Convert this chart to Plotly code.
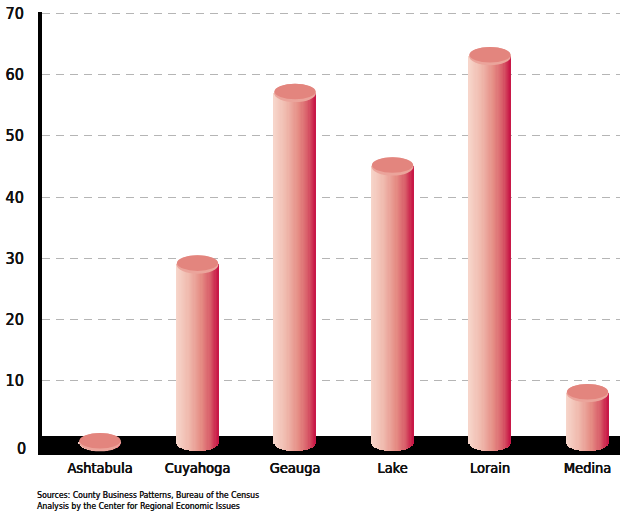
import plotly.graph_objects as go
import numpy as np

# Data
counties = ["Ashtabula", "Cuyahoga", "Geauga", "Lake", "Lorain", "Medina"]
values = [0, 29, 57, 45, 63, 8]
y_ticks = [10, 20, 30, 40, 50, 60, 70]

# Cylinder geometry (data units)
BAR_W = 0.43          # cylinder width in category units
RY = 1.5              # half-height of the elliptical caps in y units
N_STRIPS = 36         # vertical slices used to shade each cylinder

# Horizontal shading across the cylinder body
stops = [
    (0.00, (247, 214, 203)),
    (0.30, (240, 186, 174)),
    (0.60, (229, 140, 132)),
    (0.82, (216, 92, 104)),
    (1.00, (199, 18, 68)),
]


def shade(t):
    for (t0, c0), (t1, c1) in zip(stops[:-1], stops[1:]):
        if t <= t1:
            f = (t - t0) / (t1 - t0) if t1 > t0 else 0
            return "rgb(%d,%d,%d)" % tuple(round(a + (b - a) * f) for a, b in zip(c0, c1))
    return "rgb(%d,%d,%d)" % stops[-1][1]


fig = go.Figure()

strip_w = BAR_W / N_STRIPS
xs_cat = np.arange(len(counties))
for j in range(N_STRIPS):
    t = (j + 0.5) / N_STRIPS
    u = 2 * t - 1
    xs = xs_cat - BAR_W / 2 + (j + 0.5) * strip_w
    base = -RY * np.sqrt(max(0.0, 1 - u * u))
    fig.add_trace(go.Bar(
        x=xs,
        y=[v - base for v in values],
        base=[base] * len(values),
        width=strip_w * 1.15,
        marker=dict(color=shade(t), line=dict(width=0)),
        showlegend=False,
        hoverinfo="skip",
    ))

shapes = []
# Black floor band behind the cylinders
shapes.append(dict(type="rect", xref="paper", yref="y", x0=0, x1=1, y0=-2.1, y1=1.0,
                   fillcolor="black", line=dict(width=0), layer="between"))
# Elliptical top faces
for i, v in enumerate(values):
    shapes.append(dict(type="circle", xref="x", yref="y",
                       x0=i - BAR_W / 2, x1=i + BAR_W / 2, y0=v - RY, y1=v + RY,
                       fillcolor="#eba49b", line=dict(width=0), layer="above"))
    shapes.append(dict(type="circle", xref="x", yref="y",
                       x0=i - BAR_W / 2 + 0.004, x1=i + BAR_W / 2 - 0.004,
                       y0=v - RY + 0.45, y1=v + RY,
                       fillcolor="#e3857e", line=dict(width=0), layer="above"))

FONT = "DejaVu Sans Condensed, Roboto, sans-serif"
TXT = "#111111"
HEAVY = "0.35px 0 0 #111111, -0.2px 0 0 #111111"   # slightly heavier than regular weight

fig.update_layout(
    width=622, height=515,
    margin=dict(l=42, r=2, t=12, b=60),
    paper_bgcolor="white", plot_bgcolor="white",
    barmode="overlay",
    bargap=0,
    shapes=shapes,
    font=dict(family=FONT, color=TXT),
    xaxis=dict(
        range=[-0.595, 5.333],
        tickmode="array", tickvals=list(xs_cat), ticktext=counties,
        showgrid=False, zeroline=False, showline=False,
        ticks="", ticklabelstandoff=2,
        tickfont=dict(size=14.5, family=FONT, color=TXT, shadow=HEAVY),
        fixedrange=True,
    ),
    yaxis=dict(
        range=[-2.1, 70.2],
        tickmode="array",
        tickvals=y_ticks,
        ticktext=[str(v) for v in y_ticks],
        showgrid=True, gridcolor="#b5b5b5", gridwidth=1.3, griddash="8px,6px",
        zeroline=False,
        showline=True, linecolor="black", linewidth=4,
        ticks="", ticklabelstandoff=11,
        tickfont=dict(size=16, family=FONT, color=TXT, shadow=HEAVY),
        fixedrange=True,
    ),
    annotations=[
        # zero label sits in the middle of the floor band
        dict(xref="paper", yref="y", x=-0.025, y=-1.1, xanchor="right", yanchor="middle",
             showarrow=False, text="0",
             font=dict(size=16, family=FONT, color=TXT, shadow=HEAVY)),
        dict(xref="paper", yref="paper", x=-0.012, y=-0.075, xanchor="left", yanchor="top",
             align="left", showarrow=False,
             text="Sources: County Business Patterns, Bureau of the Census<br>"
                  "Analysis by the Center for Regional Economic Issues",
             font=dict(size=8.6, family=FONT, color=TXT, shadow="0.3px 0 0 #111111")),
    ],
)

fig.write_html("out.html")
